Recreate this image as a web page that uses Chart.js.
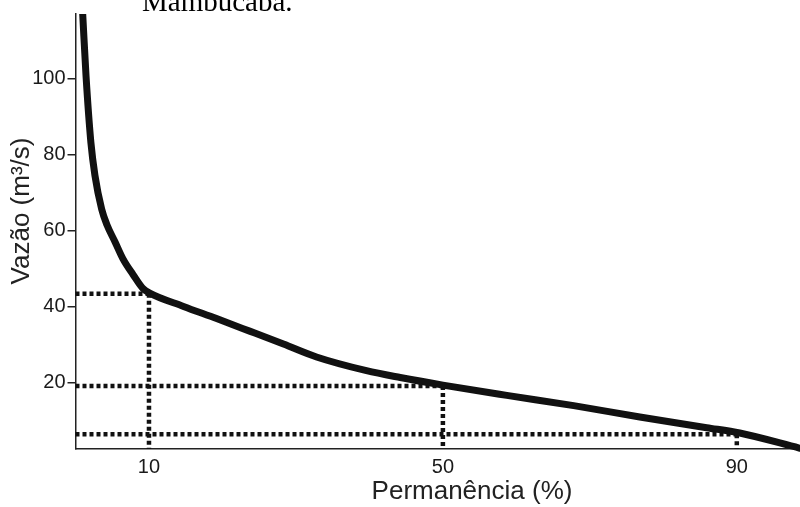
<!DOCTYPE html>
<html>
<head>
<meta charset="utf-8">
<script src="https://cdn.jsdelivr.net/npm/chart.js@4.4.1/dist/chart.umd.min.js"></script>
<style>
  html, body { margin: 0; padding: 0; background: #fff; }
  #wrap { width: 800px; height: 507px; position: relative; }
</style>
</head>
<body>
<div id="wrap"><canvas id="c" width="800" height="507"></canvas></div>
<script>
// ---- data ----
const permanencia = [0.84, 0.98, 1.43, 2.1, 2.65, 3.56, 4.29, 5.37, 6.46, 7.82, 9.18, 10.1, 14.7, 19.2, 23.7, 28.3, 32.8, 39.6, 44.2, 50.0, 58.7, 67.8, 76.8, 85.9, 90.4, 98.6];
const vazao       = [122, 117, 100.8, 83.1, 74.5, 65.7, 61.5, 57.1, 52.6, 48.5, 44.8, 43.6, 40.1, 36.9, 33.6, 30.2, 26.8, 23.2, 21.4, 19.4, 16.7, 14.0, 11.0, 8.2, 6.8, 2.8];
const refPermanencia = [10, 50, 90];
const refVazao       = [43.4, 19.2, 6.5];
const xTickValues = [10, 50, 90];
const yTickValues = [20, 40, 60, 80, 100];
const xTitle = 'Permanência (%)';
const yTitle = 'Vazão (m³/s)';
const captionText = 'Mambucaba.';

// ---- axis limits ----
const X_MIN = 0, X_MAX = 98.6, Y_MIN = 2.6, Y_MAX = 117;

const curve = permanencia.map((p, i) => ({ x: p, y: vazao[i] }));

const dotted = {
  borderColor: '#111',
  borderWidth: 4.5,
  borderDash: [4, 3],
  borderCapStyle: 'butt',
  pointRadius: 0,
  fill: false,
  tension: 0,
  order: 2,
  clip: false
};

const refSets = [];
refPermanencia.forEach((p, i) => {
  refSets.push(Object.assign({}, dotted, { data: [{ x: X_MIN, y: refVazao[i] }, { x: p, y: refVazao[i] }] }));
  refSets.push(Object.assign({}, dotted, { data: [{ x: p, y: refVazao[i] }, { x: p, y: Y_MIN }] }));
});

const textPlugin = {
  id: 'texts',
  afterDraw(chart) {
    const ctx = chart.ctx;
    ctx.save();
    ctx.fillStyle = '#222';
    ctx.font = '26px "Liberation Sans", Arial, sans-serif';
    ctx.textAlign = 'center';
    ctx.textBaseline = 'middle';
    ctx.fillText(xTitle, 472, 492);
    ctx.save();
    ctx.translate(22, 211);
    ctx.rotate(-Math.PI / 2);
    ctx.fillText(yTitle, 0, 0);
    ctx.restore();
    ctx.fillStyle = '#000';
    ctx.font = '29px "Liberation Serif", "Times New Roman", serif';
    ctx.textAlign = 'left';
    ctx.textBaseline = 'alphabetic';
    ctx.fillText(captionText, 142, 11);
    ctx.restore();
  }
};

new Chart(document.getElementById('c'), {
  type: 'line',
  data: {
    datasets: [
      {
        data: curve,
        borderColor: '#111',
        borderWidth: 7,
        pointRadius: 0,
        fill: false,
        cubicInterpolationMode: 'monotone',
        borderCapStyle: 'round',
        borderJoinStyle: 'round',
        order: 0,
        clip: { left: 0, top: 0, right: false, bottom: false }
      },
      ...refSets
    ]
  },
  options: {
    responsive: false,
    animation: false,
    devicePixelRatio: 1,
    layout: { padding: { left: 0, top: 10, right: 0, bottom: 0 } },
    plugins: { legend: { display: false }, tooltip: { enabled: false }, title: { display: false } },
    scales: {
      x: {
        type: 'linear',
        min: X_MIN,
        max: X_MAX,
        afterBuildTicks: s => { s.ticks = xTickValues.map(v => ({ value: v })); },
        afterFit: s => { s.height = 58; },
        grid: { display: false, drawTicks: false },
        border: { display: true, color: '#222', width: 1.5 },
        ticks: {
          color: '#1a1a1a',
          font: { family: '"Liberation Sans", Arial, sans-serif', size: 20 },
          padding: 6,
          maxRotation: 0,
          autoSkip: false
        }
      },
      y: {
        type: 'linear',
        min: Y_MIN,
        max: Y_MAX,
        afterBuildTicks: s => { s.ticks = yTickValues.map(v => ({ value: v })); },
        afterFit: s => { s.width = 75.5; },
        grid: { display: true, drawOnChartArea: false, drawTicks: true, tickLength: 8, color: '#222', lineWidth: 1.5 },
        border: { display: true, color: '#222', width: 1.5 },
        ticks: {
          color: '#1a1a1a',
          font: { family: '"Liberation Sans", Arial, sans-serif', size: 20 },
          padding: 2,
          autoSkip: false
        }
      }
    }
  },
  plugins: [textPlugin]
});
</script>
</body>
</html>
